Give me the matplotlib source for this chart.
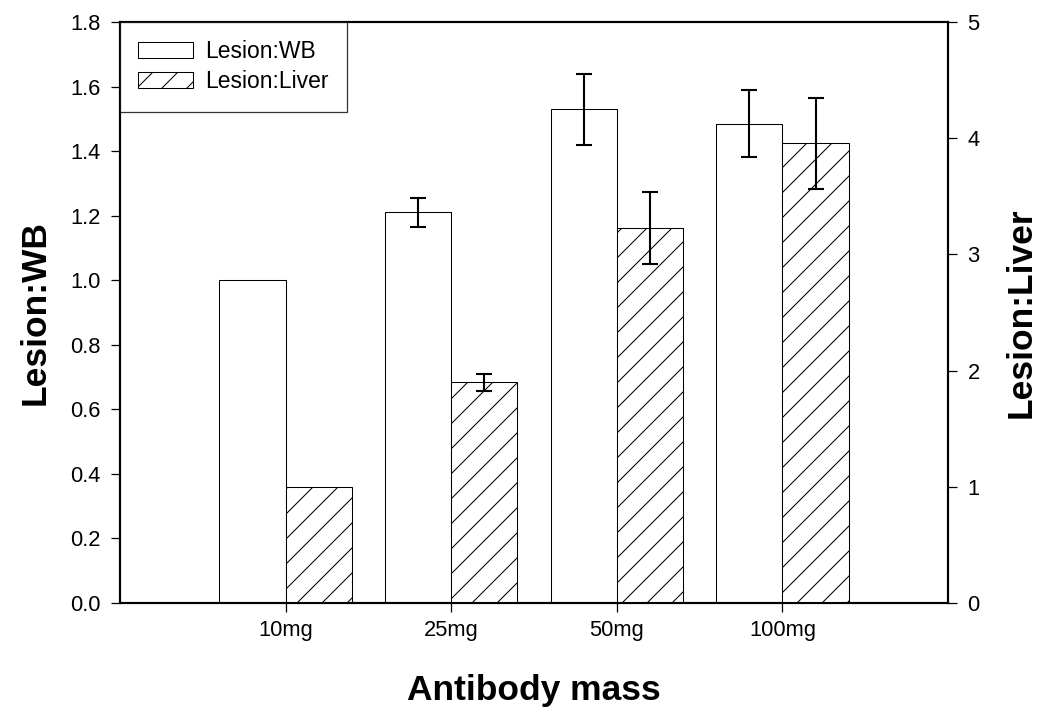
import matplotlib
matplotlib.use("Agg")
import matplotlib.pyplot as plt
import numpy as np

categories = ["10mg", "25mg", "50mg", "100mg"]
wb_values = [1.00, 1.21, 1.53, 1.485]
wb_errors = [0.0, 0.045, 0.11, 0.103]
liver_values = [1.00, 1.90, 3.23, 3.955]
liver_errors = [0.0, 0.072, 0.31, 0.39]
left_ticks = [0.0, 0.2, 0.4, 0.6, 0.8, 1.0, 1.2, 1.4, 1.6, 1.8]
right_ticks = [0, 1, 2, 3, 4, 5]

plt.rcParams['font.family'] = ['Liberation Sans', 'DejaVu Sans']
plt.rcParams['hatch.linewidth'] = 0.5

fig = plt.figure(figsize=(7.0, 716 / 150), dpi=150)
ax = fig.add_axes([120 / 1050, (716 - 603) / 716, (948 - 120) / 1050, (603 - 22) / 716])
ax2 = ax.twinx()

x = np.arange(len(categories))
w = 0.4

b1 = ax.bar(x - w / 2, wb_values, w, color='white', edgecolor='black', linewidth=0.5,
            label='Lesion:WB', zorder=2)
ax.errorbar(x[1:] - w / 2, wb_values[1:], yerr=wb_errors[1:], fmt='none', ecolor='black',
            elinewidth=1.0, capsize=4, capthick=1.0, zorder=3)

b2 = ax2.bar(x + w / 2, liver_values, w, color='white', edgecolor='black', linewidth=0.5,
             hatch='//', label='Lesion:Liver', zorder=2)
ax2.errorbar(x[1:] + w / 2, liver_values[1:], yerr=liver_errors[1:], fmt='none', ecolor='black',
             elinewidth=1.0, capsize=4, capthick=1.0, zorder=3)

ax.set_xlim(-1, 4)
ax.set_ylim(0, 1.8)
ax2.set_ylim(0, 5)
ax.set_xticks(x)
ax.set_xticklabels(categories)
ax.set_yticks(left_ticks)
ax.set_yticklabels([f"{t:.1f}" for t in left_ticks])
ax2.set_yticks(right_ticks)

for a in (ax, ax2):
    for s in a.spines.values():
        s.set_linewidth(1.0)
    a.tick_params(direction='out', length=4.3, width=0.6, labelsize=10.5, pad=5)
ax.tick_params(axis='x', pad=4)

ax.set_xlabel('Antibody mass', fontsize=17, fontweight='bold')
ax.set_ylabel('Lesion:WB', fontsize=17, fontweight='bold')
ax2.set_ylabel('Lesion:Liver', fontsize=17, fontweight='bold', rotation=90)
ax.xaxis.label.set_va('center')
ax.xaxis.set_label_coords(0.5, -0.15)
ax.yaxis.label.set_va('center')
ax.yaxis.set_label_coords(-0.102, 0.5)
ax2.yaxis.label.set_va('center')
ax2.yaxis.set_label_coords(1.088, 0.5)

leg = ax2.legend([b1, b2], ['Lesion:WB', 'Lesion:Liver'], loc='upper left', bbox_to_anchor=(0, 1),
                 borderaxespad=0, fontsize=11, frameon=True, fancybox=False, edgecolor='black',
                 handlelength=2.4, handleheight=0.7, handletextpad=0.5, borderpad=0.8,
                 labelspacing=0.3)
leg.get_frame().set_linewidth(0.6)

fig.savefig('out.png', dpi=150)
